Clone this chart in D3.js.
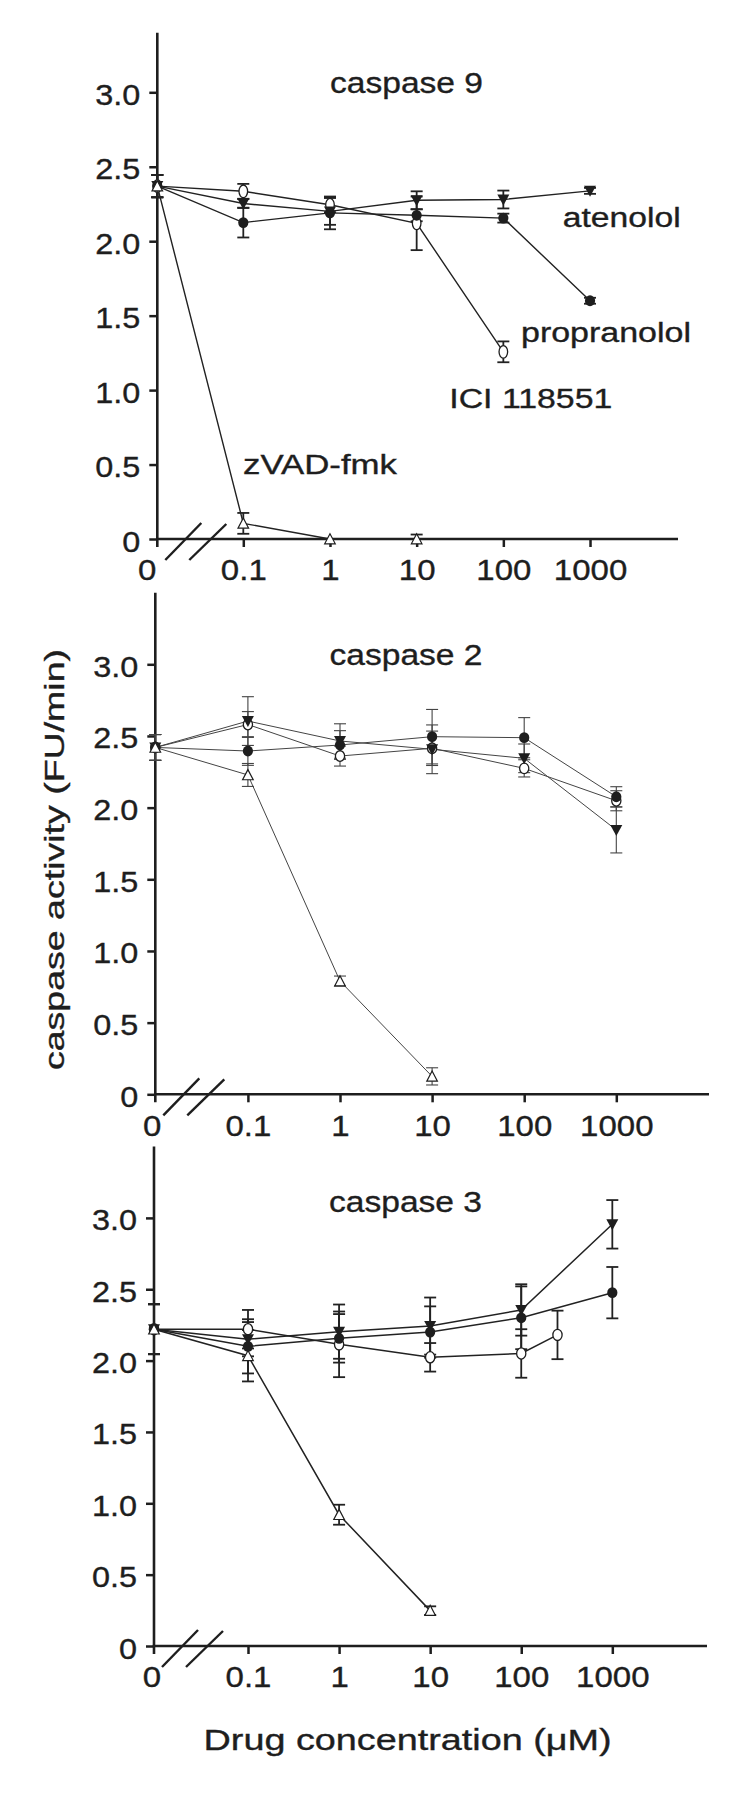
<!DOCTYPE html>
<html>
<head>
<meta charset="utf-8">
<script src="https://cdn.jsdelivr.net/npm/d3@7"></script>
<style>
  body { margin: 0; background: #fff; }
  svg { display: block; }
  text { font-family: "Liberation Sans", Arial, Helvetica, sans-serif; fill: #1e1e1e; stroke: #1e1e1e; stroke-width: 0.35px; }
</style>
</head>
<body>
<svg id="chart" width="750" height="1796"></svg>
<script>
// ---------------- DATA ----------------
const panelTitles = ["caspase 9", "caspase 2", "caspase 3"];
const seriesNames = ["ICI 118551", "atenolol", "propranolol", "zVAD-fmk"];
const xTickValues = [0.1, 1, 10, 100, 1000];
const xTickLabels = ["0.1", "1", "10", "100", "1000"];
const controlLabel = "0";
const yTickValues = [0, 0.5, 1, 1.5, 2, 2.5, 3];
const yTickLabels = ["0", "0.5", "1.0", "1.5", "2.0", "2.5", "3.0"];
const yAxisTitle = "caspase activity (FU/min)";
const xAxisTitle = "Drug concentration (\u03BCM)";

const concFull = [0, 0.1, 1, 10, 100, 1000];
const concICI9 = [0, 0.1, 1, 10, 100];
const concICI3 = [0, 0.1, 1, 10, 100, 250];
const concZVAD = [0, 0.1, 1, 10];

// caspase 9
const c9_ici = [2.37, 2.335, 2.245, 2.12, 1.257];
const c9_iciErr = [0.075, 0.05, 0.05, 0.18, 0.07];
const c9_aten = [2.37, 2.253, 2.20, 2.275, 2.28, 2.338];
const c9_atenErr = [0.075, 0.03, 0.09, 0.06, 0.06, 0.02];
const c9_prop = [2.37, 2.125, 2.19, 2.174, 2.155, 1.60];
const c9_propErr = [0.075, 0.10, 0.11, 0.04, 0.03, 0.02];
const c9_zvad = [2.37, 0.105, 0.0, 0.0];
const c9_zvadErr = [0.075, 0.07, 0.0, 0.03];

// caspase 2
const c2_ici = [2.42, 2.58, 2.36, 2.414, 2.274, 2.048];
const c2_iciErr = [0.09, 0.09, 0.07, 0.12, 0.06, 0.07];
const c2_aten = [2.42, 2.604, 2.465, 2.407, 2.344, 1.844];
const c2_atenErr = [0.09, 0.17, 0.12, 0.17, 0.10, 0.16];
const c2_prop = [2.42, 2.395, 2.437, 2.495, 2.488, 2.076];
const c2_propErr = [0.09, 0.10, 0.10, 0.19, 0.14, 0.07];
const c2_zvad = [2.42, 2.228, 0.79, 0.125];
const c2_zvadErr = [0.09, 0.08, 0.035, 0.06];

// caspase 3
const c3_ici = [2.22, 2.22, 2.114, 2.023, 2.05, 2.18];
const c3_iciErr = [0.175, 0.135, 0.23, 0.10, 0.17, 0.17];
const c3_aten = [2.22, 2.15, 2.203, 2.242, 2.355, 2.955];
const c3_atenErr = [0.175, 0.12, 0.19, 0.20, 0.18, 0.17];
const c3_prop = [2.22, 2.10, 2.156, 2.20, 2.30, 2.476];
const c3_propErr = [0.175, 0.19, 0.17, 0.18, 0.22, 0.18];
const c3_zvad = [2.22, 2.034, 0.92, 0.248];
const c3_zvadErr = [0.175, 0.18, 0.07, 0.03];

// ---------------- LAYOUT / STYLE ----------------
const ink = "#1e1e1e";
const layouts = [
  { axisX: 157.3, x01: 243.3, x1e4: 676.7, axisEnd: 678, y0: 539, y3: 92.3, yTop: 3.4,
    titleX: 330, titleY: 93.3, lineW: 1.4, lineC: "#222", errW: 1.8, ellRx: 4.3, ellRy: 6.3, zeroDx: -10 },
  { axisX: 155.3, x01: 247.9, x1e4: 708.4, axisEnd: 709, y0: 1094.3, y3: 664.3, yTop: 3.5,
    titleX: 329.5, titleY: 664.5, lineW: 1.0, lineC: "#444", errW: 1.1, ellRx: 4.6, ellRy: 5.3, zeroDx: -3 },
  { axisX: 154, x01: 248, x1e4: 703.4, axisEnd: 707, y0: 1646, y3: 1217.9, yTop: 3.5,
    titleX: 329, titleY: 1212, lineW: 1.5, lineC: "#222", errW: 1.8, ellRx: 4.6, ellRy: 5.6, zeroDx: -2 }
];

function mk(conc, vals, errs, marker) {
  return conc.map((c, i) => ({ c, v: vals[i], e: errs[i], marker }));
}

const panels = [
  { title: panelTitles[0], series: [
      mk(concICI9, c9_ici, c9_iciErr, "openEllipse"),
      mk(concFull, c9_aten, c9_atenErr, "triDown"),
      mk(concFull, c9_prop, c9_propErr, "dot"),
      mk(concZVAD, c9_zvad, c9_zvadErr, "triUpOpen") ] },
  { title: panelTitles[1], series: [
      mk(concFull, c2_ici, c2_iciErr, "openEllipse"),
      mk(concFull, c2_aten, c2_atenErr, "triDown"),
      mk(concFull, c2_prop, c2_propErr, "dot"),
      mk(concZVAD, c2_zvad, c2_zvadErr, "triUpOpen") ] },
  { title: panelTitles[2], series: [
      mk(concICI3, c3_ici, c3_iciErr, "openEllipse"),
      mk(concFull, c3_aten, c3_atenErr, "triDown"),
      mk(concFull, c3_prop, c3_propErr, "dot"),
      mk(concZVAD, c3_zvad, c3_zvadErr, "triUpOpen") ] }
];

// annotation labels in panel 1 (left x, baseline y, target width)
const annotations = [
  { text: seriesNames[1], x: 562.7, y: 227.3, w: 118 },
  { text: seriesNames[2], x: 521, y: 341.7, w: 170 },
  { text: seriesNames[0], x: 449.3, y: 408.3, w: 163 },
  { text: seriesNames[3], x: 243, y: 474, w: 154 }
];

const svg = d3.select("#chart");

function stretch(sel, f) {
  sel.each(function () {
    const L = this.getComputedTextLength();
    d3.select(this).attr("textLength", L * f).attr("lengthAdjust", "spacingAndGlyphs");
  });
}

panels.forEach((p, pi) => {
  const L = layouts[pi];
  const xLog = d3.scaleLog().domain([0.1, 10000]).range([L.x01, L.x1e4]);
  const xPos = c => (c === 0 ? L.axisX : xLog(c));
  const y = d3.scaleLinear().domain([0, 3]).range([L.y0, L.y3]);
  const g = svg.append("g");

  // y axis ticks + labels
  const yAx = g.append("g").attr("transform", `translate(${L.axisX},0)`)
    .call(d3.axisLeft(y).tickValues(yTickValues).tickFormat((d, i) => yTickLabels[i])
      .tickSize(8).tickPadding(9));
  yAx.select(".domain").remove();
  yAx.selectAll(".tick line").attr("stroke", ink).attr("stroke-width", 2.5);
  yAx.selectAll(".tick text").attr("font-size", 30).attr("dy", "0.4em")
    .style("font-family", "Liberation Sans, Arial, sans-serif");
  stretch(yAx.selectAll(".tick text"), 1.08);

  // x axis ticks + labels
  const xAx = g.append("g").attr("transform", `translate(0,${L.y0})`)
    .call(d3.axisBottom(xLog).tickValues(xTickValues).tickFormat((d, i) => xTickLabels[i])
      .tickSize(8).tickPadding(12));
  xAx.select(".domain").remove();
  xAx.selectAll(".tick line").attr("stroke", ink).attr("stroke-width", 2.5);
  xAx.selectAll(".tick text").attr("font-size", 30)
    .style("font-family", "Liberation Sans, Arial, sans-serif");
  stretch(xAx.selectAll(".tick text"), 1.1);
  const zt = g.append("text").attr("x", L.axisX + L.zeroDx).attr("y", L.y0 + 20)
    .attr("dy", "0.71em").attr("text-anchor", "middle").attr("font-size", 30).text(controlLabel);
  stretch(zt, 1.1);

  // axis lines
  g.append("line").attr("x1", L.axisX).attr("x2", L.axisX)
    .attr("y1", y(L.yTop)).attr("y2", L.y0 + 8)
    .attr("stroke", ink).attr("stroke-width", 2.6);
  g.append("line").attr("x1", L.axisX - 1.3).attr("x2", L.axisEnd)
    .attr("y1", L.y0).attr("y2", L.y0)
    .attr("stroke", ink).attr("stroke-width", 2.6);

  // axis break marks
  [[8, 21, 44, -16], [32, 21, 69, -15]].forEach(b => {
    g.append("line")
      .attr("x1", L.axisX + b[0]).attr("y1", L.y0 + b[1])
      .attr("x2", L.axisX + b[2]).attr("y2", L.y0 + b[3])
      .attr("stroke", ink).attr("stroke-width", 2.4);
  });

  // title
  g.append("text").attr("x", L.titleX).attr("y", L.titleY)
    .attr("font-size", 30).text(p.title)
    .attr("textLength", 153).attr("lengthAdjust", "spacingAndGlyphs");

  // lines
  const line = d3.line().x(d => xPos(d.c)).y(d => y(d.v));
  p.series.forEach(s => {
    g.append("path").attr("d", line(s)).attr("fill", "none")
      .attr("stroke", L.lineC).attr("stroke-width", L.lineW);
  });

  // error bars
  const cap = 6;
  p.series.forEach(s => {
    s.filter(d => d.e > 0).forEach(d => {
      const x = xPos(d.c), yt = y(d.v + d.e), yb = y(Math.max(0, d.v - d.e));
      const eg = g.append("g").attr("stroke", L.lineC).attr("stroke-width", L.errW);
      eg.append("line").attr("x1", x).attr("x2", x).attr("y1", yt).attr("y2", yb);
      eg.append("line").attr("x1", x - cap).attr("x2", x + cap).attr("y1", yt).attr("y2", yt);
      eg.append("line").attr("x1", x - cap).attr("x2", x + cap).attr("y1", yb).attr("y2", yb);
    });
  });

  // markers
  p.series.forEach(s => {
    s.forEach(d => {
      const x = xPos(d.c), yy = y(d.v);
      if (d.marker === "openEllipse") {
        g.append("ellipse").attr("cx", x).attr("cy", yy).attr("rx", L.ellRx).attr("ry", L.ellRy)
          .attr("fill", "#fff").attr("stroke", ink).attr("stroke-width", 1.3);
      } else if (d.marker === "dot") {
        g.append("ellipse").attr("cx", x).attr("cy", yy).attr("rx", 5.1).attr("ry", 5.4)
          .attr("fill", ink);
      } else if (d.marker === "triDown") {
        g.append("path").attr("transform", `translate(${x},${yy})`)
          .attr("d", "M-6,-5L6,-5L0,6Z").attr("fill", ink);
      } else if (d.marker === "triUpOpen") {
        g.append("path").attr("transform", `translate(${x},${yy})`)
          .attr("d", "M-5.3,4.8L5.3,4.8L0,-5.3Z").attr("fill", "#fff")
          .attr("stroke", ink).attr("stroke-width", 1.2);
      }
    });
  });
});

// annotation labels (panel 1)
annotations.forEach(a => {
  svg.append("text").attr("x", a.x).attr("y", a.y).attr("font-size", 27)
    .attr("textLength", a.w).attr("lengthAdjust", "spacingAndGlyphs").text(a.text);
});

// axis titles
svg.append("text")
  .attr("transform", "translate(64,859.5) rotate(-90)")
  .attr("text-anchor", "middle").attr("font-size", 28)
  .attr("textLength", 421).attr("lengthAdjust", "spacingAndGlyphs")
  .text(yAxisTitle);

svg.append("text")
  .attr("x", 407.6).attr("y", 1750).attr("text-anchor", "middle").attr("font-size", 29)
  .attr("textLength", 408).attr("lengthAdjust", "spacingAndGlyphs")
  .text(xAxisTitle);
</script>
</body>
</html>
